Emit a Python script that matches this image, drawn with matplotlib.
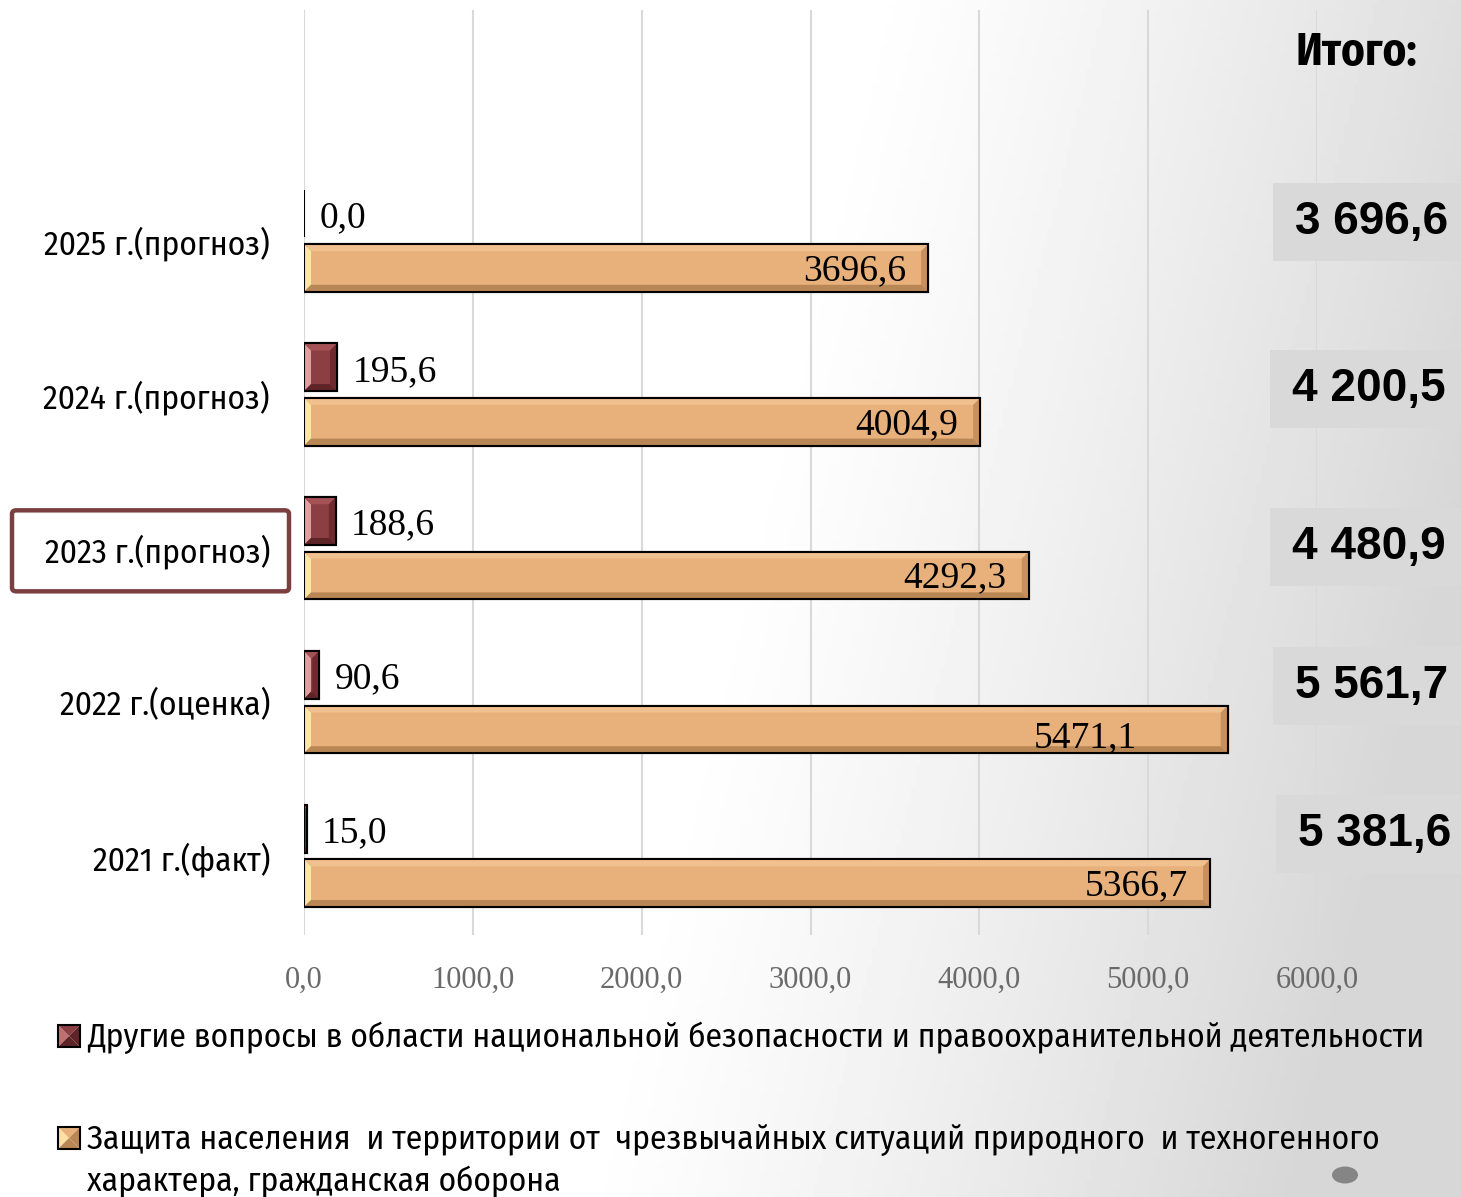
import numpy as np
import matplotlib
matplotlib.use("Agg")
import matplotlib.pyplot as plt
from matplotlib import font_manager
from matplotlib.ft2font import FT2Font
from matplotlib.patches import Rectangle, Polygon, FancyBboxPatch, Ellipse

# data
years = ["2021 г.(факт)", "2022 г.(оценка)", "2023 г.(прогноз)",
         "2024 г.(прогноз)", "2025 г.(прогноз)"]
other_security = [15.0, 90.6, 188.6, 195.6, 0.0]
civil_defense = [5366.7, 5471.1, 4292.3, 4004.9, 3696.6]
totals = [5381.6, 5561.7, 4480.9, 4200.5, 3696.6]
x_ticks = [0, 1000, 2000, 3000, 4000, 5000, 6000]
highlight_year = "2023 г.(прогноз)"
legend_labels = [
    "Другие вопросы в области национальной безопасности и правоохранительной деятельности",
    "Защита населения  и территории от  чрезвычайных ситуаций природного  и техногенного\n"
    "характера, гражданская оборона",
]

W, H = 1461, 1197


def pick_narrow():
    # a condensed sans that actually covers Cyrillic
    need = {ord(c) for c in "ДЗИабвгдежзийклмнопрстуфхцчшщыьэюя"}
    for f in font_manager.fontManager.ttflist:
        if "Narrow" in f.name or "Condensed" in f.name:
            try:
                cmap = FT2Font(f.fname).get_charmap()
            except Exception:
                continue
            if need <= set(cmap):
                return f.name
    return "Liberation Sans"


narrow = pick_narrow()
serif = "Liberation Serif"


def fx(px):
    return px / W


def fy(py):
    return 1 - py / H


def comma(v, spaced=False):
    s = f"{v:,.1f}" if spaced else f"{v:.1f}"
    return s.replace(",", " ").replace(".", ",")


fig = plt.figure(figsize=(W / 100, H / 100), dpi=100)
renderer = fig.canvas.get_renderer()


def fit_size(text, family, target_px, weight="normal", start=26):
    # font size that makes the string span target_px pixels
    t = fig.text(0, 0, text, family=family, fontweight=weight, fontsize=start)
    w = t.get_window_extent(renderer).width
    t.remove()
    return start * target_px / w


cat_size = fit_size("2025 г.(прогноз)", narrow, 225)
leg_size = fit_size(legend_labels[0], narrow, 1333)
head_size = fit_size("Итого:", narrow, 122, weight="bold")

# soft grey wash towards the right
bg = fig.add_axes([0, 0, 1, 1], zorder=-10)
gx, gy = np.meshgrid(np.linspace(0, 1, 300), np.linspace(0, 1, 300))
shade = np.clip((gx - 0.5) / 0.5 + 0.4 * (gy - 0.45), 0, 1) ** 1.2
bg.imshow(1 - 0.16 * shade, cmap="gray", vmin=0, vmax=1, aspect="auto",
          extent=[0, 1, 0, 1], origin="upper")
bg.axis("off")

ax = fig.add_axes([fx(304), fy(935), fx(1317) - fx(304), fy(10) - fy(935)])
ax.set_facecolor("none")
ax.set_xlim(0, 6000)
ax.set_ylim(-0.514, 5.5)

y = np.arange(len(years))
h = 0.31
off = 0.177
orange = "#e8b17c"
maroon = "#8c3f42"

bars_o = ax.barh(y - off, civil_defense, height=h, color=orange,
                 edgecolor="black", linewidth=1.5, zorder=3)
bars_m = ax.barh(y + off, other_security, height=h, color=maroon,
                 edgecolor="black", linewidth=1.5, zorder=3)

# bevelled faces on every bar
px_x = 6000 / (1317 - 304)
px_y = (5.5 + 0.514) / (935 - 10)


def bevel(bars, light, top, dark, bottom):
    for r in bars:
        x0, y0 = r.get_x(), r.get_y()
        x1, y1 = x0 + r.get_width(), y0 + r.get_height()
        if x1 - x0 <= 0:
            continue
        b = min(7 * px_x, (x1 - x0) / 2)
        by = 7 * px_y
        faces = [
            ([(x0, y0), (x0 + b, y0 + by), (x0 + b, y1 - by), (x0, y1)], light),
            ([(x0, y1), (x0 + b, y1 - by), (x1 - b, y1 - by), (x1, y1)], top),
            ([(x1, y1), (x1 - b, y1 - by), (x1 - b, y0 + by), (x1, y0)], dark),
            ([(x0, y0), (x0 + b, y0 + by), (x1 - b, y0 + by), (x1, y0)], bottom),
        ]
        for pts, c in faces:
            ax.add_patch(Polygon(pts, closed=True, facecolor=c, edgecolor="none",
                                 zorder=3.5))
        ax.add_patch(Rectangle((x0, y0), x1 - x0, y1 - y0, facecolor="none",
                               edgecolor="black", linewidth=1.5, zorder=4))


bevel(bars_o, "#ffe6a6", "#f0c08e", "#c98f5c", "#b98656")
bevel(bars_m, "#e0a0a0", "#a55256", "#6e2a2e", "#5e2428")

# value labels
for r, v in zip(bars_m, other_security):
    ax.annotate(comma(v), (r.get_width(), r.get_y() + r.get_height() / 2),
                xytext=(11, -3), textcoords="offset points", ha="left",
                va="center", fontsize=27, family=serif, zorder=5)
# the 2022 label sits further inside its bar
nudge = {1: (-49, -4)}
for i, (r, v) in enumerate(zip(bars_o, civil_defense)):
    dx, dy = nudge.get(i, (0, 0))
    ax.annotate(comma(v), (r.get_width(), r.get_y() + r.get_height() / 2),
                xytext=(-16 + dx, -2 + dy), textcoords="offset points", ha="right",
                va="center", fontsize=27, family=serif, zorder=5)

ax.set_xticks(x_ticks)
ax.set_xticklabels([comma(t) for t in x_ticks], family=serif, fontsize=22,
                   color="#6a6a6a")
ax.tick_params(axis="x", length=0, pad=22)
ax.set_yticks(y)
ax.set_yticklabels(years, family=narrow, fontsize=cat_size)
ax.tick_params(axis="y", length=0, pad=24.5)
ax.grid(axis="x", color="#d9d9d9", linewidth=1.5, zorder=0)
ax.set_axisbelow(True)
for s in ax.spines.values():
    s.set_visible(False)

# frame around the highlighted year
hy = years.index(highlight_year)
cy = ax.transData.transform((0, hy))[1] - 2.5
fig.patches.append(FancyBboxPatch((fx(12), (cy - 40.5) / H), fx(277), 81 / H,
                                  boxstyle="round,pad=0,rounding_size=0.003",
                                  transform=fig.transFigure, facecolor="none",
                                  edgecolor="#7b3f40", linewidth=3.2, zorder=5))

# totals column, each grey plate lifted a little above its row
fig.text(fx(1356), fy(53), "Итого:", family=narrow, fontweight="bold",
         fontsize=head_size, ha="center", va="center")
plate_lift = [22, 16, 1, 6, 19]
plate_left = [1276, 1273, 1270, 1270, 1273]
for yi, t, lift, left in zip(y, totals, plate_lift, plate_left):
    cy = ax.transData.transform((0, yi))[1] + lift
    fig.patches.append(Rectangle((fx(left), (cy - 39) / H), fx(W - left), 78 / H,
                                 transform=fig.transFigure, facecolor="#d9d9d9",
                                 edgecolor="none", zorder=1))
    fig.text(fx(left + 99), cy / H, comma(t, spaced=True), family="Liberation Sans",
             fontweight="bold", fontsize=33, ha="center", va="center", zorder=2)


# legend
def legend_marker(px, py, face, light, dark):
    s = 22
    x0, y0, x1, y1 = fx(px), fy(py + s), fx(px + s), fy(py)
    cxm, cym = (x0 + x1) / 2, (y0 + y1) / 2
    tris = [([(x0, y0), (x0, y1), (cxm, cym)], light),
            ([(x0, y1), (x1, y1), (cxm, cym)], face),
            ([(x1, y1), (x1, y0), (cxm, cym)], dark),
            ([(x1, y0), (x0, y0), (cxm, cym)], dark)]
    for pts, c in tris:
        fig.patches.append(Polygon(pts, closed=True, transform=fig.transFigure,
                                   facecolor=c, edgecolor="none"))
    fig.patches.append(Rectangle((x0, y0), x1 - x0, y1 - y0, transform=fig.transFigure,
                                 facecolor="none", edgecolor="black", linewidth=1.5))


legend_marker(58, 1025, maroon, "#c07070", "#5e2428")
legend_marker(58, 1127, orange, "#ffe0a0", "#b98656")
fig.text(fx(87), fy(1038), legend_labels[0], family=narrow, fontsize=leg_size,
         ha="left", va="center")
for k, line in enumerate(legend_labels[1].split("\n")):
    fig.text(fx(87), fy(1140 + 42 * k), line, family=narrow, fontsize=leg_size,
             ha="left", va="center")

fig.patches.append(Ellipse((fx(1345), fy(1175)), fx(26), 17 / H,
                           transform=fig.transFigure, facecolor="#858585",
                           edgecolor="none"))

fig.savefig("out.png", dpi=100)
